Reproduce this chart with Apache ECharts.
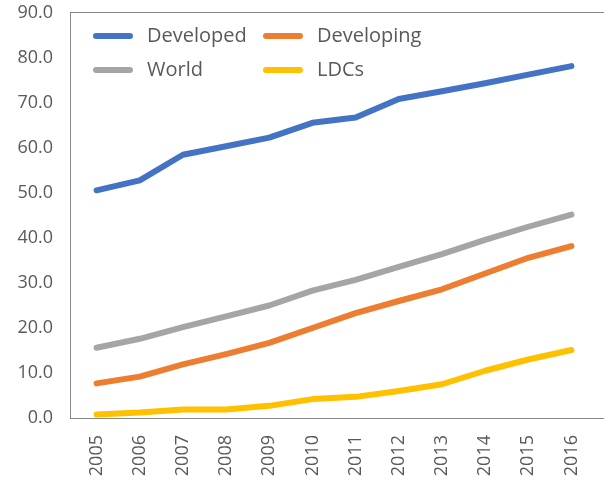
<!DOCTYPE html>
<html>
<head>
<meta charset="UTF-8">
<title>Line chart</title>
<script src="https://cdn.jsdelivr.net/npm/echarts@6/dist/echarts.min.js"></script>
<style>
  html, body { margin: 0; padding: 0; background: #fff; }
  #main { width: 604px; height: 489px; }
</style>
</head>
<body>
<div id="main"></div>
<script>
// data
var years = ['2005','2006','2007','2008','2009','2010','2011','2012','2013','2014','2015','2016'];
var developed  = [50.6, 52.8, 58.5, 60.4, 62.3, 65.6, 66.8, 70.9, 72.6, 74.4, 76.3, 78.2];
var developing = [7.7, 9.2, 11.9, 14.2, 16.7, 20.0, 23.3, 26.0, 28.6, 32.1, 35.6, 38.2];
var world      = [15.6, 17.6, 20.2, 22.6, 25.0, 28.3, 30.7, 33.6, 36.4, 39.6, 42.5, 45.2];
var ldcs       = [0.8, 1.2, 1.9, 1.9, 2.7, 4.2, 4.7, 6.0, 7.5, 10.5, 13.0, 15.1];
var yTicks = { min: 0, max: 90, step: 10 };

var txt = '#595959';
var frame = '#868686';
var font = 'Open Sans';

function line(name, data, color) {
  return {
    name: name, type: 'line', data: data,
    symbol: 'none', smooth: false,
    lineStyle: { width: 6, color: color, cap: 'round', join: 'round' },
    itemStyle: { color: color }
  };
}

// capsule shaped legend marker
var capsule = 'path://M3,0 L37,0 A3,3 0 0,1 37,6 L3,6 A3,3 0 0,1 3,0 Z';

function legend(left, names) {
  return {
    orient: 'vertical', left: left, top: 19,
    itemWidth: 40, itemHeight: 6, itemGap: 10,
    icon: capsule,
    data: names,
    textStyle: { fontFamily: font, fontSize: 20, color: txt, lineHeight: 24, padding: [0, 0, 0, 9] }
  };
}

var chart = echarts.init(document.getElementById('main'));
chart.setOption({
  animation: false,
  grid: { left: 75, right: 11, top: 13, bottom: 71 },
  legend: [legend(88, ['Developed', 'World']), legend(258, ['Developing', 'LDCs'])],
  xAxis: {
    type: 'category', data: years, boundaryGap: true,
    axisLine: { show: false }, axisTick: { show: false },
    axisLabel: { rotate: 90, margin: 17, fontFamily: font, fontSize: 18, color: txt }
  },
  yAxis: {
    type: 'value', min: yTicks.min, max: yTicks.max, interval: yTicks.step,
    splitLine: { show: false }, axisLine: { show: false }, axisTick: { show: false },
    axisLabel: {
      margin: 22, fontFamily: font, fontSize: 18, color: txt,
      formatter: function (v) { return v.toFixed(1); }
    }
  },
  graphic: [
    { type: 'line', shape: { x1: 70.5, y1: 12.5, x2: 70.5, y2: 418.5 }, style: { stroke: frame, lineWidth: 1 } },
    { type: 'line', shape: { x1: 70, y1: 12.5, x2: 604, y2: 12.5 }, style: { stroke: frame, lineWidth: 1 } },
    { type: 'line', shape: { x1: 70, y1: 418.5, x2: 604, y2: 418.5 }, style: { stroke: frame, lineWidth: 1 } }
  ],
  series: [
    line('Developed', developed, '#4472C4'),
    line('Developing', developing, '#ED7D31'),
    line('World', world, '#A5A5A5'),
    line('LDCs', ldcs, '#FFC000')
  ]
});
window.onresize = chart.resize;
</script>
</body>
</html>
